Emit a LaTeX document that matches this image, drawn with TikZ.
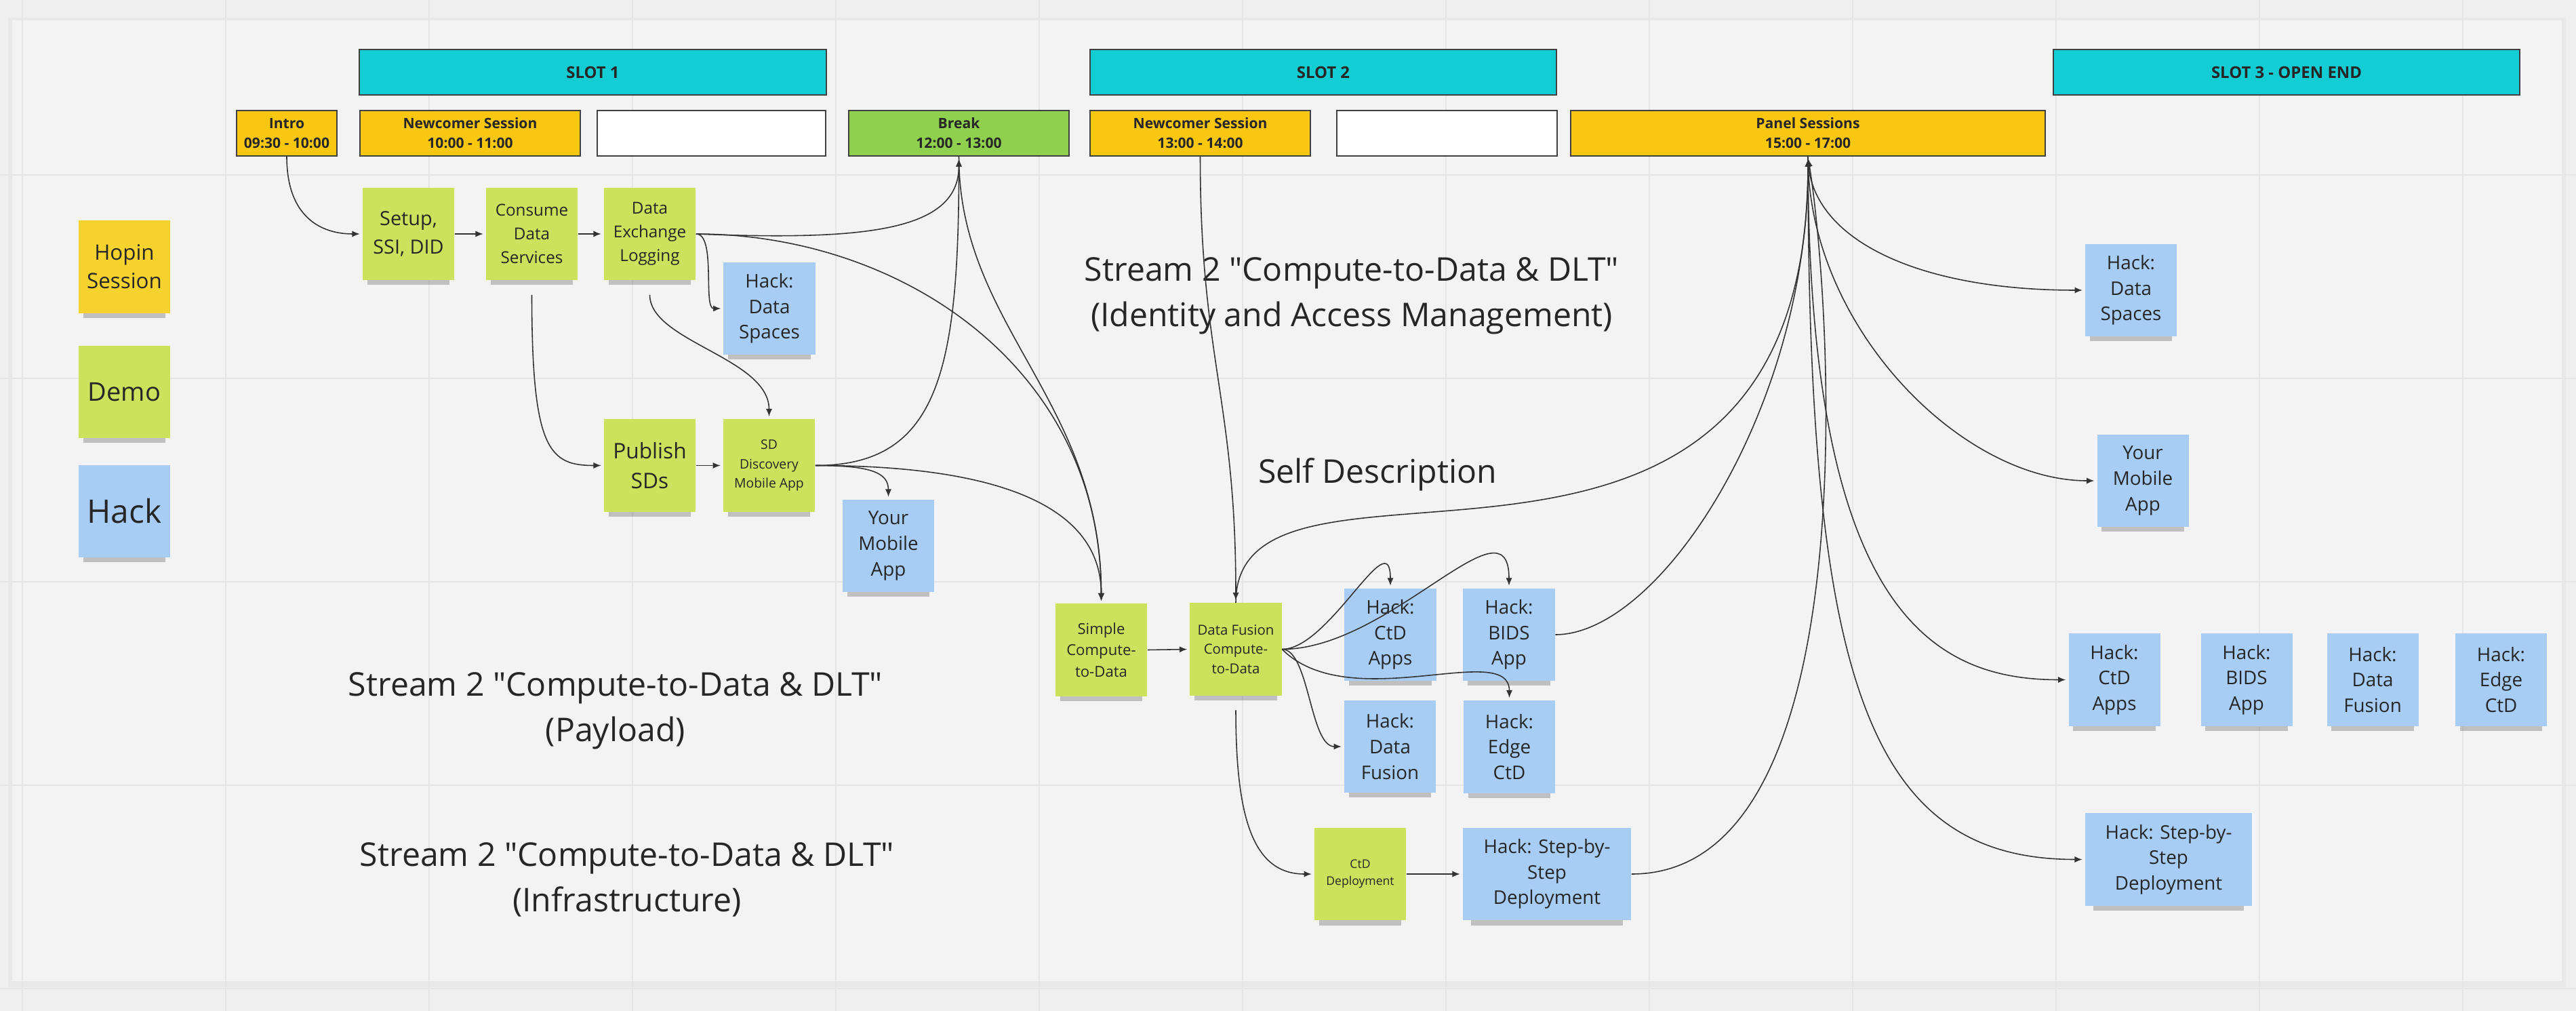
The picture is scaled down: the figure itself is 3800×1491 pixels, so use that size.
\documentclass[tikz,border=0pt]{standalone}
\usepackage{fontspec}
\setmainfont{Open Sans}[Ligatures=TeXOff]
\usetikzlibrary{arrows.meta,shadows}

\definecolor{canvas}{HTML}{EFEFEF}
\definecolor{board}{HTML}{F3F3F3}
\definecolor{gridline}{HTML}{E5E5E5}
\definecolor{slotcyan}{HTML}{12CDD4}
\definecolor{sessionyellow}{HTML}{FAC710}
\definecolor{breakgreen}{HTML}{8FD14F}
\definecolor{notegreen}{HTML}{CDE25C}
\definecolor{noteblue}{HTML}{A8CDF5}
\definecolor{noteyellow}{HTML}{F5D22E}

\begin{document}
\begin{tikzpicture}[x=0.01cm, y=-0.01cm,
    note/.style={minimum width=1.35cm, minimum height=1.36cm, inner sep=0pt, align=center, text=black!85,
      drop shadow={shadow xshift=0pt, shadow yshift=-4.5pt, shadow scale=0.9, opacity=0.3, fill=black!70}},
    greennote/.style={note, fill=notegreen},
    bluenote/.style={note, fill=noteblue},
    yellownote/.style={note, fill=noteyellow},
    hacktext/.style={font=\fontsize{7.9}{10.7}\selectfont},
    session/.style={draw=black!75, line width=0.5pt, minimum height=0.67cm, inner sep=0pt, align=center,
      text=black!85, font=\bfseries\fontsize{6}{8.2}\selectfont},
    slot/.style={session, fill=slotcyan, minimum width=6.88cm, font=\bfseries\fontsize{6.8}{8}\selectfont},
    stream/.style={align=center, text=black!85, font=\fontsize{13.7}{19}\selectfont},
    link/.style={line width=0.45pt, draw=black!80, -{Latex[length=3.2pt,width=2.6pt]}, shorten >=1pt}]
\useasboundingbox (0,0) rectangle (3800,1491);

% First the board and its grid
\fill[canvas] (0,0) rectangle (3800,1491);
\fill[black!9] (12,26) rectangle (3785,1456);
\fill[board] (18,30) rectangle (3779,1447);
\draw[gridline, line width=0.8pt] (33,0) -- (33,1491);
\draw[gridline, line width=0.8pt] (333,0) -- (333,1491);
\draw[gridline, line width=0.8pt] (633,0) -- (633,1491);
\draw[gridline, line width=0.8pt] (933,0) -- (933,1491);
\draw[gridline, line width=0.8pt] (1233,0) -- (1233,1491);
\draw[gridline, line width=0.8pt] (1533,0) -- (1533,1491);
\draw[gridline, line width=0.8pt] (1833,0) -- (1833,1491);
\draw[gridline, line width=0.8pt] (2133,0) -- (2133,1491);
\draw[gridline, line width=0.8pt] (2433,0) -- (2433,1491);
\draw[gridline, line width=0.8pt] (2733,0) -- (2733,1491);
\draw[gridline, line width=0.8pt] (3033,0) -- (3033,1491);
\draw[gridline, line width=0.8pt] (3333,0) -- (3333,1491);
\draw[gridline, line width=0.8pt] (3633,0) -- (3633,1491);
\draw[gridline, line width=0.8pt] (0,258) -- (3800,258);
\draw[gridline, line width=0.8pt] (0,558) -- (3800,558);
\draw[gridline, line width=0.8pt] (0,858) -- (3800,858);
\draw[gridline, line width=0.8pt] (0,1158) -- (3800,1158);
\draw[gridline, line width=0.8pt] (0,1458) -- (3800,1458);

% Now the slots and the sessions
\node[slot] (slotone) at (874.5,106.5) {SLOT 1};
\node[slot] (slottwo) at (1952,106.5) {SLOT 2};
\node[slot] (slotthree) at (3373,106.5) {SLOT 3 - OPEN END};
\node[session, fill=sessionyellow, minimum width=1.48cm] (intro) at (423,196.5) {Intro\\09:30 - 10:00};
\node[session, fill=sessionyellow, minimum width=3.25cm] (newcomerone) at (693.5,196.5) {Newcomer Session\\10:00 - 11:00};
\node[session, fill=white, minimum width=3.37cm] (blankone) at (1049.5,196.5) {};
\node[session, fill=breakgreen, minimum width=3.25cm] (brk) at (1414.5,196.5) {Break\\12:00 - 13:00};
\node[session, fill=sessionyellow, minimum width=3.25cm] (newcomertwo) at (1770.5,196.5) {Newcomer Session\\13:00 - 14:00};
\node[session, fill=white, minimum width=3.25cm] (blanktwo) at (2134.5,196.5) {};
\node[session, fill=sessionyellow, minimum width=7cm] (panel) at (2667,196.5) {Panel Sessions\\15:00 - 17:00};

% Now the legend
\node[yellownote, font=\fontsize{8.9}{11.9}\selectfont] (hopin) at (183.5,393.5) {Hopin\\Session};
\node[greennote, font=\fontsize{10.8}{13}\selectfont] (demo) at (183.5,578) {Demo};
\node[bluenote, font=\fontsize{13.6}{16}\selectfont] (hack) at (183.5,754) {Hack};

% Now the stickies of slot 1
\node[greennote, font=\fontsize{8.2}{11.9}\selectfont] (setup) at (602.5,345) {Setup,\\SSI, DID};
\node[greennote, font=\fontsize{6.9}{10}\selectfont] (consume) at (784.5,345) {Consume\\Data\\Services};
\node[greennote, font=\fontsize{6.9}{10}\selectfont] (exchange) at (958.5,345) {Data\\Exchange\\Logging};
\node[bluenote, hacktext] (dataspaces) at (1135,455) {Hack:\\Data\\Spaces};
\node[greennote, font=\fontsize{9}{12.3}\selectfont] (publish) at (958.5,686.5) {Publish\\SDs};
\node[greennote, font=\fontsize{5.5}{8.1}\selectfont] (discovery) at (1134.5,686.5) {SD\\Discovery\\Mobile App};
\node[bluenote, hacktext] (mobile) at (1310.5,805) {Your\\Mobile\\App};

% Now the stickies of slot 2
\node[greennote, font=\fontsize{6.3}{9}\selectfont] (simple) at (1624.5,958.5) {Simple\\Compute-\\to-Data};
\node[greennote, font=\fontsize{5.8}{8.1}\selectfont] (fusion) at (1823,957.5) {Data Fusion\\Compute-\\to-Data};
\node[bluenote, hacktext] (ctdapps) at (2051,936) {Hack:\\CtD\\Apps};
\node[bluenote, hacktext] (bids) at (2226,936) {Hack:\\BIDS\\App};
\node[bluenote, hacktext] (hackfusion) at (2050.5,1101) {Hack:\\Data\\Fusion};
\node[bluenote, hacktext] (edge) at (2226.5,1101.5) {Hack:\\Edge\\CtD};
\node[greennote, font=\fontsize{5}{7.1}\selectfont] (deploy) at (2006.5,1289) {CtD\\Deployment};
\node[bluenote, hacktext, minimum width=2.48cm] (stepbystep) at (2282,1289) {Hack: Step-by-\\Step\\Deployment};

% now the stickies of slot 3
\node[bluenote, hacktext] (openspaces) at (3143.5,428) {Hack:\\Data\\Spaces};
\node[bluenote, hacktext] (openmobile) at (3161,709) {Your\\Mobile\\App};
\node[bluenote, hacktext] (openctd) at (3119,1002.5) {Hack:\\CtD\\Apps};
\node[bluenote, hacktext] (openbids) at (3314,1002.5) {Hack:\\BIDS\\App};
\node[bluenote, hacktext] (openfusion) at (3500,1002.5) {Hack:\\Data\\Fusion};
\node[bluenote, hacktext] (openedge) at (3689.5,1002.5) {Hack:\\Edge\\CtD};
\node[bluenote, hacktext, minimum width=2.46cm] (openstep) at (3199,1267.5) {Hack: Step-by-\\Step\\Deployment};

% Now the stream titles
\node[stream] (iamtext) at (1994,436) {Stream 2 "Compute-to-Data \& DLT"\\(Identity and Access Management)};
\node[stream, anchor=base] (selfdesc) at (2032,712) {Self Description};
\node[stream] (payloadtext) at (908,1048) {Stream 2 "Compute-to-Data \& DLT"\\(Payload)};
\node[stream] (infratext) at (925,1297) {Stream 2 "Compute-to-Data \& DLT"\\(Infrastructure)};

% First the links of slot 1
\draw[link] (intro.south) .. controls +(0,90) and +(-60,0) .. (setup.west);
\draw[link] (setup.east) -- (consume.west);
\draw[link] (consume.east) -- (exchange.west);
\draw[link] (exchange.east) .. controls +(250,10) and +(0,110) .. (brk.south);
\draw[link] (exchange.east) .. controls +(30,0) and +(-30,0) .. (dataspaces.west);
\draw[link] (exchange.east) .. controls +(300,0) and +(0,-350) .. (simple.north);
\draw[link, shorten <=6pt] (exchange.south) .. controls +(0,90) and +(0,-90) .. (discovery.north);
\draw[link, shorten <=6pt] (consume.south) .. controls +(0,250) and +(-80,0) .. (publish.west);
\draw[link] (publish.east) -- (discovery.west);
\draw[link] (discovery.east) .. controls +(180,0) and +(0,320) .. (brk.south);
\draw[link] (discovery.east) .. controls +(80,0) and +(0,-40) .. (mobile.north);
\draw[link] (discovery.east) .. controls +(300,0) and +(0,-130) .. (simple.north);
\draw[link] (brk.south) .. controls +(0,250) and +(0,-300) .. (simple.north);

% Now the links of slot 2
\draw[link] (simple.east) -- (fusion.west);
\draw[link] (newcomertwo.south) .. controls +(0,300) and +(0,-300) .. (fusion.north);
\draw[link] (fusion.north) .. controls +(0,-290) and +(0,770) .. (panel.south);
\draw[link] (fusion.east) .. controls +(70,0) and +(0,-100) .. (ctdapps.north);
\draw[link] (fusion.east) .. controls +(160,0) and +(0,-140) .. (bids.north);
\draw[link] (fusion.east) .. controls +(40,0) and +(-50,0) .. (hackfusion.west);
\draw[link] (fusion.east) .. controls +(100,100) and +(0,-90) .. (edge.north);
\draw[link, shorten <=6pt] (fusion.south) .. controls +(0,180) and +(-90,0) .. (deploy.west);
\draw[link] (deploy.east) -- (stepbystep.west);
\draw[link] (bids.east) .. controls +(155,0) and +(0,370) .. (panel.south);
\draw[link] (stepbystep.east) .. controls +(350,0) and +(35,220) .. (panel.south);

% now the links of slot 3
\draw[link] (panel.south) .. controls +(0,120) and +(-250,0) .. (openspaces.west);
\draw[link] (panel.south) .. controls +(0,250) and +(-200,0) .. (openmobile.west);
\draw[link] (panel.south) .. controls +(0,670) and +(-200,0) .. (openctd.west);
\draw[link] (panel.south) .. controls +(0,770) and +(-320,0) .. (openstep.west);
\end{tikzpicture}
\end{document}
